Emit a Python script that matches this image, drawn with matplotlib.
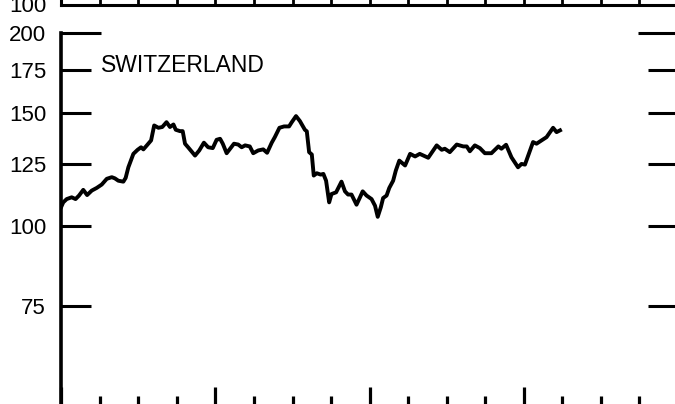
import matplotlib
matplotlib.use("Agg")
import matplotlib.pyplot as plt
from matplotlib.ticker import FixedLocator, FixedFormatter, NullFormatter

plt.rcParams['font.family'] = ['Liberation Sans', 'DejaVu Sans']

# time in quarters from the start of the first year, index level (log scale)
quarters = [0.00, 0.05, 0.14, 0.27, 0.37, 0.46, 0.57, 0.67, 0.79, 0.92,
            1.05, 1.18, 1.31, 1.39, 1.48, 1.61, 1.67, 1.74, 1.87, 1.98,
            2.07, 2.13, 2.22, 2.33, 2.41, 2.52, 2.62, 2.73, 2.82, 2.91,
            2.97, 3.08, 3.15, 3.21, 3.29, 3.47, 3.58, 3.70, 3.81, 3.93,
            4.03, 4.12, 4.19, 4.29, 4.38, 4.48, 4.59, 4.68, 4.77, 4.89,
            4.98, 5.11, 5.24, 5.34, 5.46, 5.54, 5.66, 5.78, 5.91, 5.98,
            6.09, 6.19, 6.32, 6.37, 6.43, 6.50, 6.55, 6.63, 6.73, 6.80,
            6.87, 6.95, 7.01, 7.13, 7.27, 7.36, 7.44, 7.53, 7.66, 7.75,
            7.82, 7.92, 8.05, 8.14, 8.21, 8.29, 8.35, 8.44, 8.51, 8.61,
            8.68, 8.77, 8.92, 9.05, 9.18, 9.30, 9.52, 9.74, 9.87, 9.95,
            10.08, 10.26, 10.43, 10.52, 10.60, 10.73, 10.86, 10.99, 11.16, 11.34,
            11.42, 11.54, 11.68, 11.85, 11.94, 12.03, 12.24, 12.33, 12.46, 12.59,
            12.76, 12.85, 12.94]
index_values = [107.1, 108.8, 110.1, 110.8, 110.1, 111.5, 113.8, 111.7, 113.5, 114.6,
                116.0, 118.4, 119.1, 118.6, 117.6, 117.2, 118.8, 123.4, 129.5, 131.4,
                132.6, 131.6, 133.5, 135.9, 143.4, 142.2, 142.6, 145.1, 142.6, 143.9,
                141.2, 140.5, 140.5, 134.3, 132.6, 128.7, 131.1, 134.8, 132.6, 132.2,
                136.2, 136.7, 134.3, 129.8, 131.9, 134.3, 133.9, 132.6, 133.5, 133.0,
                129.8, 131.1, 131.6, 130.0, 134.8, 137.5, 142.2, 142.9, 142.9, 145.1,
                148.3, 145.7, 141.2, 140.4, 130.3, 129.2, 119.8, 120.8, 120.2, 120.5,
                117.6, 108.8, 112.1, 112.8, 117.2, 113.2, 111.9, 111.9, 107.9, 110.8,
                113.2, 111.5, 110.1, 107.5, 103.3, 106.9, 110.5, 111.5, 114.6, 117.6,
                122.0, 126.4, 124.2, 129.5, 128.3, 129.5, 127.7, 133.5, 131.4, 131.9,
                130.3, 133.9, 133.0, 133.0, 130.7, 133.5, 132.2, 129.8, 129.8, 133.0,
                131.9, 133.8, 127.9, 123.4, 124.9, 124.6, 135.1, 134.3, 135.9, 137.5,
                142.2, 140.0, 140.9]

y_ticks = [75, 100, 125, 150, 175]
y_top_tick = [200]
year_ticks = [0, 4, 8, 12, 16]
quarter_ticks = [1, 2, 3, 5, 6, 7, 9, 10, 11, 13, 14, 15]
all_quarters = list(range(17))

fig = plt.figure(figsize=(6.75, 4.04), dpi=100)

# main panel (its bottom edge runs off the page like the scanned original)
ax = fig.add_axes([0.0908, -0.0371, 0.9136, 0.956])
ax.plot(quarters, index_values, color='black', lw=2.8, solid_joinstyle='round')
ax.set_yscale('log')
ax.set_ylim(50, 200)
ax.set_xlim(0, 16)

ax.yaxis.set_major_locator(FixedLocator(y_ticks))
ax.yaxis.set_major_formatter(FixedFormatter([str(v) for v in y_ticks]))
ax.yaxis.set_minor_locator(FixedLocator(y_top_tick))
ax.yaxis.set_minor_formatter(FixedFormatter([str(v) for v in y_top_tick]))
ax.tick_params(axis='y', which='major', direction='in', length=21.6, width=2.2,
               left=True, right=True, labelleft=True, labelright=False,
               labelsize=16, pad=11)
ax.tick_params(axis='y', which='minor', direction='in', length=28.8, width=2.2,
               left=True, right=True, labelleft=True, labelright=False,
               labelsize=16, pad=11)

ax.xaxis.set_major_locator(FixedLocator(year_ticks))
ax.xaxis.set_minor_locator(FixedLocator(quarter_ticks))
ax.xaxis.set_major_formatter(NullFormatter())
ax.xaxis.set_minor_formatter(NullFormatter())
ax.tick_params(axis='x', which='major', direction='in', length=23, width=2.3)
ax.tick_params(axis='x', which='minor', direction='in', length=16.5, width=2.3)

for side in ['top', 'right', 'bottom']:
    ax.spines[side].set_visible(False)
ax.spines['left'].set_linewidth(2.6)

ax.text(1.03, 178, 'SWITZERLAND', ha='left', va='center', fontsize=16.5)

# bottom edge of the panel above, cut by the page
ax_top = fig.add_axes([0.0908, 1 - 4.5 / 404, 0.9136, 0.2])
ax_top.set_xlim(0, 16)
ax_top.set_ylim(100, 200)
ax_top.xaxis.set_major_locator(FixedLocator(all_quarters))
ax_top.xaxis.set_major_formatter(NullFormatter())
ax_top.tick_params(axis='x', direction='in', length=8, width=2)
ax_top.set_yticks([100])
ax_top.set_yticklabels(['100'])
ax_top.tick_params(axis='y', length=0, labelsize=16, pad=11)
for side in ['top', 'right']:
    ax_top.spines[side].set_visible(False)
ax_top.spines['left'].set_linewidth(2.2)
ax_top.spines['bottom'].set_linewidth(2.2)

fig.savefig('out.png', dpi=100)
